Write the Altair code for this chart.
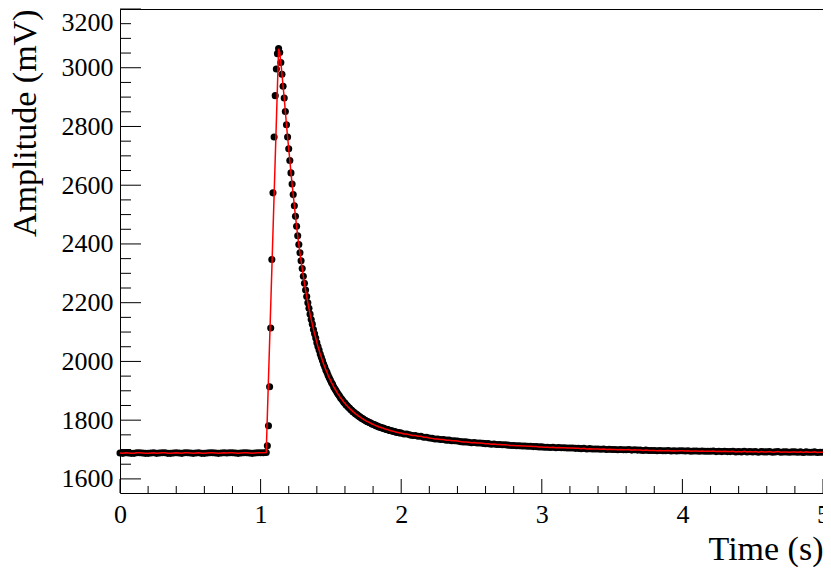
import altair as alt
import pandas as pd

# ---------------- data ----------------
# baseline before the pulse: t = 0.00 .. 1.04 s, every 0.02 s
BASE_T0, BASE_DT = 0.0, 0.02
BASE_MV = [
    1688, 1687, 1689, 1688, 1687, 1687, 1689, 1689, 1688, 1687,
    1687, 1688, 1689, 1687, 1688, 1689, 1689, 1687, 1687, 1688,
    1689, 1688, 1687, 1689, 1689, 1688, 1687, 1688, 1689, 1687,
    1687, 1688, 1689, 1689, 1688, 1687, 1688, 1689, 1688, 1689,
    1689, 1688, 1687, 1688, 1689, 1689, 1688, 1687, 1688, 1689,
    1689, 1689, 1690,
]

# pulse: t = 1.048 .. 1.992 s, every 0.008 s
PULSE_T0, PULSE_DT = 1.048, 0.008
PULSE_MV = [
    1713, 1781, 1914, 2114, 2347, 2574, 2764, 2905, 2996, 3048,   # rising edge
    3065, 3052, 3018, 2978, 2937, 2897, 2851, 2806, 2764, 2724,
    2684, 2642, 2604, 2568, 2530, 2494, 2460, 2428, 2398, 2370,
    2343, 2316, 2290, 2266, 2243, 2221, 2200, 2181, 2161, 2143,
    2127, 2109, 2094, 2080, 2064, 2051, 2039, 2025, 2014, 2003,
    1991, 1982, 1971, 1963, 1953, 1944, 1937, 1928, 1922, 1913,
    1907, 1901, 1894, 1888, 1883, 1876, 1872, 1867, 1861, 1858,
    1852, 1849, 1844, 1841, 1836, 1834, 1829, 1827, 1823, 1820,
    1818, 1814, 1812, 1809, 1806, 1805, 1801, 1800, 1797, 1795,
    1794, 1791, 1790, 1787, 1786, 1784, 1783, 1780, 1780, 1777,
    1777, 1775, 1773, 1773, 1771, 1770, 1768, 1768, 1766, 1765,
    1764, 1763, 1762, 1761, 1760, 1759, 1758, 1757, 1756,
]
RISE_COUNT = 10  # samples on the rising edge, which the fit line skips

# tail: t = 2.00 .. 5.00 s, every 0.02 s
TAIL_T0, TAIL_DT = 2.0, 0.02
TAIL_MV = [
    1756, 1753, 1753, 1750, 1748, 1748, 1745, 1745, 1742, 1742,
    1739, 1738, 1736, 1736, 1734, 1734, 1732, 1732, 1730, 1730,
    1729, 1727, 1726, 1726, 1725, 1723, 1724, 1722, 1722, 1721,
    1720, 1720, 1718, 1719, 1717, 1717, 1716, 1716, 1715, 1714,
    1714, 1713, 1713, 1712, 1712, 1711, 1711, 1710, 1710, 1709,
    1709, 1708, 1708, 1707, 1708, 1706, 1707, 1706, 1706, 1705,
    1705, 1705, 1704, 1704, 1703, 1704, 1702, 1703, 1702, 1702,
    1702, 1701, 1702, 1700, 1701, 1700, 1700, 1699, 1700, 1699,
    1699, 1700, 1698, 1699, 1698, 1698, 1697, 1698, 1697, 1697,
    1697, 1696, 1697, 1696, 1696, 1697, 1695, 1696, 1695, 1696,
    1696, 1695, 1696, 1694, 1695, 1695, 1694, 1695, 1694, 1694,
    1694, 1695, 1693, 1694, 1693, 1694, 1693, 1693, 1694, 1692,
    1693, 1692, 1694, 1692, 1693, 1692, 1693, 1691, 1693, 1692,
    1692, 1693, 1691, 1692, 1693, 1691, 1692, 1692, 1691, 1692,
    1692, 1691, 1692, 1690, 1692, 1691, 1691, 1692, 1690, 1691,
    1691,
]

X_TICKS = [0, 1, 2, 3, 4, 5]
Y_TICKS = [1600, 1800, 2000, 2200, 2400, 2600, 2800, 3000, 3200]
X_DOMAIN = [0, 5]
Y_DOMAIN = [1552, 3200]


def segment(t0, dt, values):
    return pd.DataFrame({"t": [round(t0 + i * dt, 4) for i in range(len(values))],
                         "mv": values})


base = segment(BASE_T0, BASE_DT, BASE_MV)
pulse = segment(PULSE_T0, PULSE_DT, PULSE_MV)
tail = segment(TAIL_T0, TAIL_DT, TAIL_MV)

points = pd.concat([base, pulse, tail], ignore_index=True)
fit = pd.concat([base, pulse.iloc[RISE_COUNT:], tail], ignore_index=True)

x_minor = [round(i * 0.2, 2) for i in range(1, 25) if i % 5 != 0]
y_minor = [v for v in range(1600, 3200, 50) if v % 200 != 0]

FONT = "Liberation Serif"
W, H = 703, 484

xs = alt.Scale(domain=X_DOMAIN, nice=False, zero=False)
ys = alt.Scale(domain=Y_DOMAIN, nice=False, zero=False)

x_axis = alt.Axis(values=X_TICKS, format="d", ticks=False, domain=False, grid=False,
                  labelFontSize=26, labelPadding=8, labelFlush=False,
                  labelColor="black", labelFont=FONT,
                  title="Time (s)", titleFont=FONT, titleFontSize=34,
                  titleFontWeight="normal", titleColor="black",
                  titleAlign="right", titleBaseline="alphabetic",
                  titleX=W, titleY=66)
y_axis = alt.Axis(values=Y_TICKS, format="d", ticks=False, domain=False, grid=False,
                  labelFontSize=26, labelPadding=7, labelFlush=True, labelFlushOffset=0,
                  labelColor="black", labelFont=FONT,
                  title="Amplitude (mV)", titleFont=FONT, titleFontSize=34,
                  titleFontWeight="normal", titleColor="black", titleAngle=270,
                  titleAlign="right", titleBaseline="alphabetic",
                  titleX=-85, titleY=0)

dots = alt.Chart(points).mark_circle(size=50, color="black", opacity=1).encode(
    x=alt.X("t:Q", scale=xs, axis=x_axis),
    y=alt.Y("mv:Q", scale=ys, axis=y_axis),
)

line = alt.Chart(fit).mark_line(color="#ff0000", strokeWidth=1.5).encode(
    x=alt.X("t:Q", scale=xs, axis=x_axis),
    y=alt.Y("mv:Q", scale=ys, axis=y_axis),
)

xmaj = alt.Chart(pd.DataFrame({"v": X_TICKS})).mark_rule(color="black", strokeWidth=1).encode(
    x=alt.X("v:Q", scale=xs, axis=x_axis), y=alt.value(H), y2=alt.value(H - 14))
xmin = alt.Chart(pd.DataFrame({"v": x_minor})).mark_rule(color="black", strokeWidth=1).encode(
    x=alt.X("v:Q", scale=xs, axis=x_axis), y=alt.value(H), y2=alt.value(H - 7))
ymaj = alt.Chart(pd.DataFrame({"v": Y_TICKS})).mark_rule(color="black", strokeWidth=1).encode(
    y=alt.Y("v:Q", scale=ys, axis=y_axis), x=alt.value(0), x2=alt.value(21))
ymin = alt.Chart(pd.DataFrame({"v": y_minor})).mark_rule(color="black", strokeWidth=1).encode(
    y=alt.Y("v:Q", scale=ys, axis=y_axis), x=alt.value(0), x2=alt.value(11))

chart = alt.layer(dots, line, xmaj, xmin, ymaj, ymin).properties(
    width=W, height=H,
    autosize=alt.AutoSizeParams(type="none"),
    padding={"left": 112, "top": 1, "right": 0, "bottom": 74},
).configure(
    font=FONT, background="white",
    view=alt.ViewConfig(stroke="black", strokeWidth=1),
)

chart.save("out.html", embed_options={"renderer": "svg", "actions": False})
